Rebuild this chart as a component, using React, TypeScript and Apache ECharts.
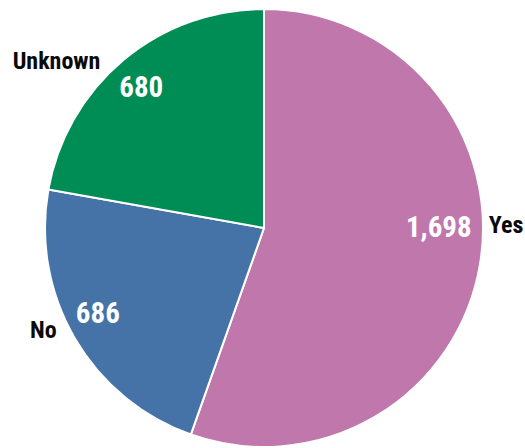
import React, { useEffect, useRef } from "react";
import * as echarts from "echarts";

const categories = ["Yes", "No", "Unknown"];
const values = [1698, 686, 680];
const colors = ["#c077ac", "#4573a8", "#008c55"];
const valueLabelOffsets: [number, number][] = [[-9, -33], [-5, -9], [-3, 2]];
const nameLabelOffsets: [number, number][] = [[-15, -40], [6, -8], [1, 1]];

const FONT = "'Roboto Condensed', 'Liberation Sans Narrow', sans-serif";

export default function App() {
  const ref = useRef<HTMLDivElement>(null);
  useEffect(() => {
    if (!ref.current) return;
    const chart = echarts.init(ref.current, undefined, { renderer: "svg" });
    const center = [264, 228];
    chart.setOption({
      animation: false,
      series: [
        {
          type: "pie",
          center,
          radius: [0, 219],
          startAngle: 90,
          clockwise: true,
          silent: true,
          itemStyle: { borderColor: "#ffffff", borderWidth: 2 },
          label: {
            show: true,
            position: "outside",
            formatter: "{b}",
            color: "#0a0a0a",
            fontFamily: FONT,
            fontWeight: "bold",
            fontSize: 24,
            overflow: "none",
          },
          labelLine: { show: false, length: 0, length2: 19 },
          data: categories.map((c, i) => ({
            name: c,
            value: values[i],
            itemStyle: { color: colors[i] },
            label: { offset: nameLabelOffsets[i] },
          })),
        },
        {
          type: "pie",
          center,
          radius: [148, 219],
          startAngle: 90,
          clockwise: true,
          silent: true,
          itemStyle: { color: "rgba(0,0,0,0)", borderWidth: 0 },
          label: {
            show: true,
            position: "inside",
            formatter: (p: any) => p.value.toLocaleString("en-US"),
            color: "#ffffff",
            fontFamily: FONT,
            fontWeight: "bold",
            fontSize: 29,
            overflow: "none",
          },
          labelLine: { show: false },
          data: categories.map((c, i) => ({
            name: c,
            value: values[i],
            label: { offset: valueLabelOffsets[i] },
          })),
        },
      ],
    });
    return () => chart.dispose();
  }, []);
  return (
    <div
      ref={ref}
      style={{ position: "fixed", left: 0, top: 0, width: 525, height: 448, background: "#ffffff" }}
    />
  );
}
